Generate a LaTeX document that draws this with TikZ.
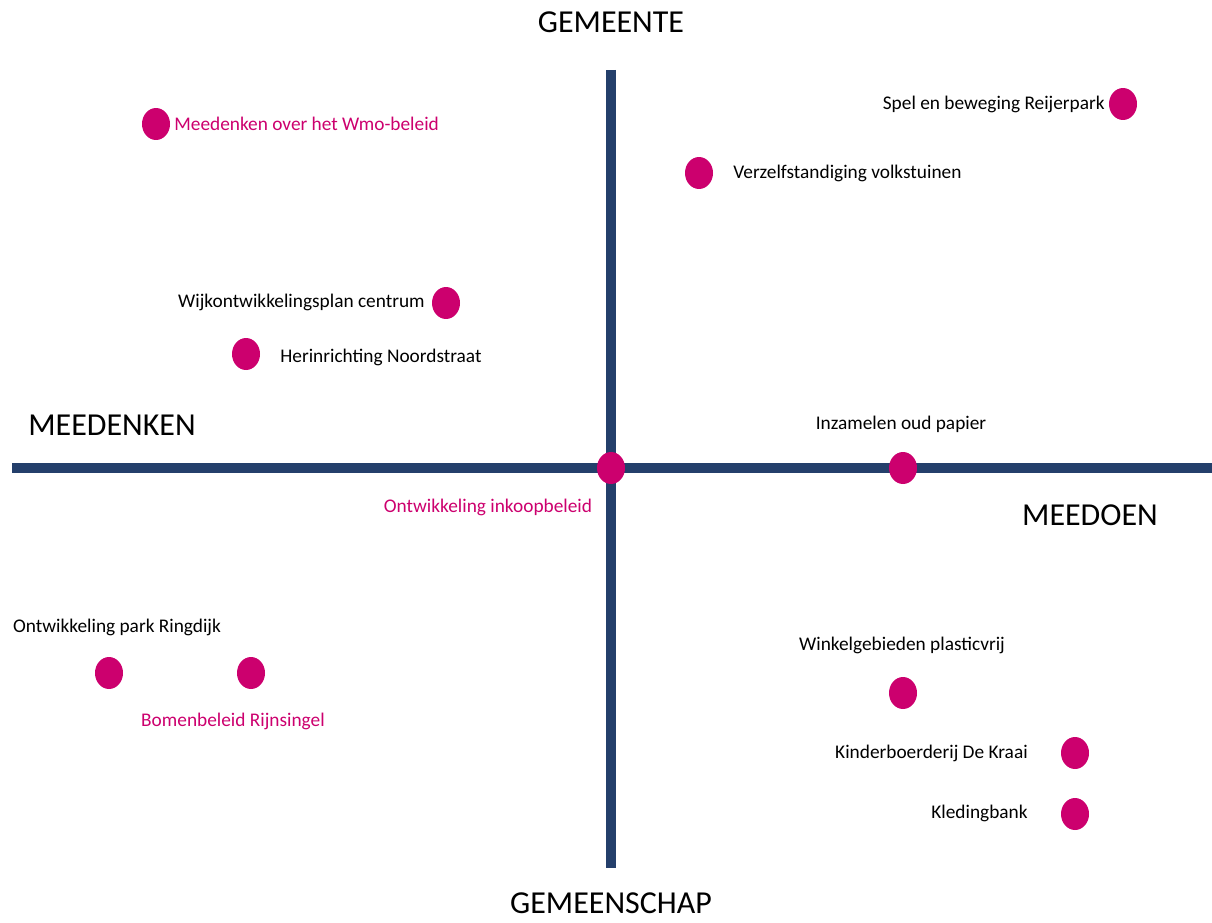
\documentclass[tikz,border=0pt]{standalone}
\usepackage{fontspec}
\setmainfont{Carlito}
\usetikzlibrary{shapes.geometric,positioning}
\definecolor{axisblue}{RGB}{36,63,107}
\definecolor{spotpink}{RGB}{204,0,110}
\begin{document}
\begin{tikzpicture}[x=0.02cm,y=-0.02cm]
        		\tikzstyle{spot}=[ellipse,fill=spotpink,minimum width=0.56cm,minimum height=0.64cm,inner sep=0pt]
        		\tikzstyle{axis}=[draw=axisblue,line width=5.7pt]
        		\tikzstyle{pole}=[font=\fontsize{18.2}{21}\selectfont,inner sep=0pt]
        		\tikzstyle{item}=[font=\fontsize{11}{13}\selectfont,inner sep=0pt]
        		\tikzstyle{pinkitem}=[item,text=spotpink]
        		\useasboundingbox (0,0) rectangle (1212,922);
        		\begin{scope}
        			% axes
        			\coordinate (top) at (611,70);
        			\coordinate (bottom) at (611,868);
        			\coordinate (left) at (12,468);
        			\coordinate (right) at (1212,468);
        			\path[axis] (left) -- (right);
        			\path[axis] (top) -- (bottom);
        			\node [pole] (gemeente) at (611,22) {GEMEENTE};
        			\node [pole] (gemeenschap) at (611,903) {GEMEENSCHAP};
        			\node [pole,anchor=west] (meedenken) at (28,425) {MEEDENKEN};
        			\node [pole] (meedoen) at (1090,515) {MEEDOEN};
        			% spots
        			\node [spot] (wmo) at (156,124) {};
        			\node [spot] (reijerpark) at (1123,104) {};
        			\node [spot] (volkstuinen) at (699,173) {};
        			\node [spot] (wijkplan) at (446,303) {};
        			\node [spot] (noordstraat) at (246,354) {};
        			\node [spot] (inkoop) at (611,468) {};
        			\node [spot] (papier) at (903,468) {};
        			\node [spot] (ringdijk) at (109,673) {};
        			\node [spot] (rijnsingel) at (251,673) {};
        			\node [spot] (plasticvrij) at (903,693) {};
        			\node [spot] (kraai) at (1075,753) {};
        			\node [spot] (kledingbank) at (1075,814) {};
        			% labels
        			\node [pinkitem,anchor=west] (wmo-l) at (174,124) {Meedenken over het Wmo-beleid};
        			\node [item,anchor=east] (reijerpark-l) at (1105,104) {Spel en beweging Reijerpark};
        			\node [item,anchor=west] (volkstuinen-l) at (733,173) {Verzelfstandiging volkstuinen};
        			\node [item,anchor=east] (wijkplan-l) at (425,302) {Wijkontwikkelingsplan centrum};
        			\node [item,anchor=west] (noordstraat-l) at (280,357) {Herinrichting Noordstraat};
        			\node [pinkitem] (inkoop-l) at (488,507) {Ontwikkeling inkoopbeleid};
        			\node [item] (papier-l) at (901,424) {Inzamelen oud papier};
        			\node [item] (ringdijk-l) at (117,627) {Ontwikkeling park Ringdijk};
        			\node [pinkitem] (rijnsingel-l) at (233,721) {Bomenbeleid Rijnsingel};
        			\node [item] (plasticvrij-l) at (902,645) {Winkelgebieden plasticvrij};
        			\node [item,anchor=east] (kraai-l) at (1028,753) {Kinderboerderij De Kraai};
        			\node [item,anchor=east] (kledingbank-l) at (1028,813) {Kledingbank};
        		\end{scope}
      		\end{tikzpicture}
\end{document}
